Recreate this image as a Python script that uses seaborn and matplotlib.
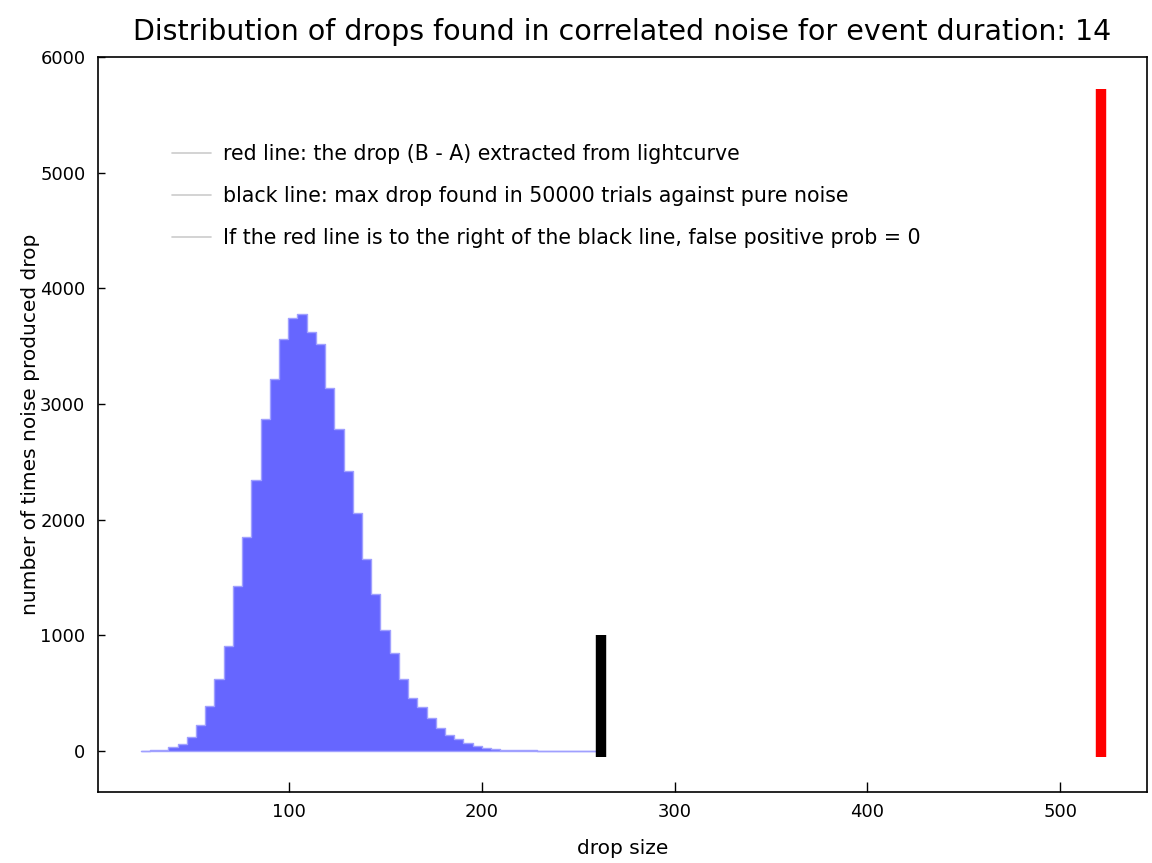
import numpy as np
import pandas as pd
import matplotlib
matplotlib.use("Agg")
import matplotlib.pyplot as plt
from matplotlib.lines import Line2D
import seaborn as sns

# histogram of max drops found in noise
BIN_START = 23.2
BIN_WIDTH = 4.78
COUNTS = [3, 5, 10, 30, 60, 120, 225, 387, 620, 910,
          1428, 1850, 2343, 2866, 3218, 3558, 3740, 3781, 3619, 3515,
          3140, 2779, 2418, 2058, 1662, 1357, 1042, 846, 621, 456,
          384, 283, 202, 139, 104, 67, 43, 29, 15, 10,
          7, 5, 4, 3, 2, 2, 1, 1, 1, 1]

# marker lines
BLACK_X = 262
BLACK_TOP = 1000
RED_X = 521
RED_TOP = 5720
LINE_BOTTOM = -50

LEGEND_TEXT = [
    "red line: the drop (B - A) extracted from lightcurve",
    "black line: max drop found in 50000 trials against pure noise",
    "If the red line is to the right of the black line, false positive prob = 0",
]
TITLE = "Distribution of drops found in correlated noise for event duration: 14"

sns.set_theme(style="white")
plt.rcParams["font.family"] = ["DejaVu Sans"]
plt.rcParams["text.color"] = "black"
plt.rcParams["axes.labelcolor"] = "black"

edges = BIN_START + BIN_WIDTH * np.arange(len(COUNTS) + 1)
df = pd.DataFrame({"drop": (edges[:-1] + edges[1:]) / 2, "count": COUNTS})

fig = plt.figure(figsize=(11.52, 8.63), dpi=100)
ax = fig.add_axes([0.085, 0.0823, 0.9107, 0.8517])

sns.histplot(data=df, x="drop", weights="count", bins=list(edges), element="step",
             fill=True, color="#6666ff", alpha=1, edgecolor="#a0a0ff",
             linewidth=1, ax=ax)

ax.vlines([BLACK_X], LINE_BOTTOM, BLACK_TOP, color="black", linewidth=7.5)
ax.vlines([RED_X], LINE_BOTTOM, RED_TOP, color="#ff0000", linewidth=7.5)

ax.set_xlim(1, 545)
ax.set_ylim(-355, 6000)
ax.set_xticks([100, 200, 300, 400, 500])
ax.set_yticks([0, 1000, 2000, 3000, 4000, 5000, 6000])
ax.tick_params(axis="x", bottom=True, direction="in", length=7, width=1,
               labelsize=13, colors="black", pad=8)
ax.tick_params(axis="y", left=True, direction="in", length=5, width=1,
               labelsize=13, colors="black", pad=9)
for sp in ax.spines.values():
    sp.set_color("black")
    sp.set_linewidth(1.2)

ax.set_xlabel("drop size", fontsize=14.5, labelpad=13)
ax.set_ylabel("number of times noise produced drop", fontsize=14.5, labelpad=0)
ax.set_title(TITLE, fontsize=20.5, pad=12, color="black")

handles = [Line2D([], [], color="#cccccc", linewidth=1.2) for _ in LEGEND_TEXT]
ax.legend(handles, LEGEND_TEXT, loc="upper left", bbox_to_anchor=(0.0705, 0.881),
          frameon=False, fontsize=14.8, borderpad=0, borderaxespad=0,
          handlelength=1.9, handletextpad=0.6, labelspacing=1.06)

fig.savefig("out.png", dpi=100)
